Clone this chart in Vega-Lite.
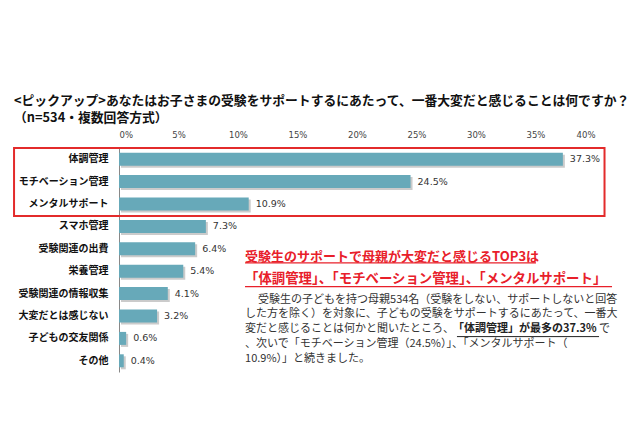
{
  "$schema": "https://vega.github.io/schema/vega-lite/v6.json",
  "autosize": "none",
  "width": 476,
  "height": 224,
  "padding": {"left": 119, "top": 148, "right": 45, "bottom": 54},
  "background": "white",
  "config": {"view": {"stroke": null}},
  "title": {
    "text": ["<ピックアップ>あなたはお子さまの受験をサポートするにあたって、一番大変だと感じることは何ですか？", "（n=534・複数回答方式）"],
    "anchor": "start",
    "frame": "group",
    "dx": -105,
    "offset": 5,
    "font": "Noto Sans CJK JP",
    "fontSize": 12.8,
    "fontWeight": "bold",
    "color": "#111111",
    "lineHeight": 17
  },
  "data": {"values": [
    {"item": "体調管理", "value": 37.3},
    {"item": "モチベーション管理", "value": 24.5},
    {"item": "メンタルサポート", "value": 10.9},
    {"item": "スマホ管理", "value": 7.3},
    {"item": "受験関連の出費", "value": 6.4},
    {"item": "栄養管理", "value": 5.4},
    {"item": "受験関連の情報収集", "value": 4.1},
    {"item": "大変だとは感じない", "value": 3.2},
    {"item": "子どもの交友関係", "value": 0.6},
    {"item": "その他", "value": 0.4}
  ]},
  "encoding": {
    "y": {
      "field": "item", "type": "nominal", "sort": null,
      "scale": {"paddingInner": 0, "paddingOuter": 0},
      "axis": {
        "title": null, "ticks": false, "domain": true, "domainColor": "#888888", "domainWidth": 1,
        "labelPadding": 11, "labelFont": "Noto Sans CJK JP", "labelFontSize": 10,
        "labelFontWeight": "bold", "labelColor": "#111111"
      }
    },
    "x": {
      "field": "value", "type": "quantitative",
      "scale": {"domain": [0, 40], "nice": false},
      "axis": {
        "orient": "top", "title": null, "ticks": false, "domain": false, "grid": false,
        "values": [0, 5, 10, 15, 20, 25, 30, 35, 40],
        "labelExpr": "datum.value + '%'",
        "labelFont": "DejaVu Sans", "labelFontSize": 8.5, "labelColor": "#444444",
        "labelPadding": 9
      }
    }
  },
  "layer": [
    {
      "mark": {"type": "bar", "fill": "#b5b5b5", "opacity": 0.7, "xOffset": 2, "yOffset": 2, "height": {"band": 0.58}}
    },
    {
      "mark": {"type": "bar", "fill": "#67a9b9", "height": {"band": 0.58}}
    },
    {
      "mark": {"type": "text", "align": "left", "baseline": "middle", "dx": 7, "font": "DejaVu Sans", "fontSize": 9.5, "fill": "#333333",
        "text": {"expr": "format(datum.value, '.1f') + '%'"}},
      "encoding": {}
    },
    {
      "transform": [{"filter": "datum.item === '体調管理'"}],
      "mark": {"type": "rect", "fill": null, "stroke": "#e32b2b", "strokeWidth": 2, "yOffset": -11.2, "y2Offset": 12},
      "encoding": {
        "x": {"datum": -8.82, "type": "quantitative"},
        "x2": {"datum": 40.8},
        "y": {"datum": "体調管理"},
        "y2": {"datum": "メンタルサポート"}
      }
    },
    {
      "transform": [{"filter": "datum.item === '体調管理'"}],
      "mark": {"type": "text", "align": "left", "baseline": "middle", "dy": 8, "font": "Noto Sans CJK JP", "fontSize": 13, "fontWeight": "bold", "fill": "#e8202a",
        "text": "受験生のサポートで母親が大変だと感じるTOP3は"},
      "encoding": {"x": {"datum": 10.59, "type": "quantitative"}, "y": {"datum": "受験関連の出費"}}
    },
    {
      "transform": [{"filter": "datum.item === '体調管理'"}],
      "mark": {"type": "text", "align": "left", "baseline": "middle", "dy": 8, "font": "Noto Sans CJK JP", "fontSize": 13.4, "fontWeight": "bold", "fill": "#e8202a",
        "text": "「体調管理」、「モチベーション管理」、「メンタルサポート」"},
      "encoding": {"x": {"datum": 10.59, "type": "quantitative"}, "y": {"datum": "栄養管理"}}
    },
    {
      "transform": [{"filter": "datum.item === '体調管理'"}],
      "mark": {"type": "rule", "stroke": "#e8202a", "strokeWidth": 1.2, "yOffset": 14},
      "encoding": {"x": {"datum": 10.59, "type": "quantitative"}, "x2": {"datum": 35.04}, "y": {"datum": "受験関連の出費"}}
    },
    {
      "transform": [{"filter": "datum.item === '体調管理'"}],
      "mark": {"type": "rule", "stroke": "#e8202a", "strokeWidth": 1.2, "yOffset": 15.5},
      "encoding": {"x": {"datum": 10.59, "type": "quantitative"}, "x2": {"datum": 41.43}, "y": {"datum": "栄養管理"}}
    },
    {
      "transform": [{"filter": "datum.item === '体調管理'"}],
      "mark": {"type": "text", "align": "left", "baseline": "top", "dx": 13, "dy": 0, "font": "Noto Sans CJK JP", "fontSize": 11, "fill": "#333333",
        "text": "受験生の子どもを持つ母親534名（受験をしない、サポートしないと回答"},
      "encoding": {"x": {"datum": 10.59, "type": "quantitative"}, "y": {"datum": "受験関連の情報収集"}}
    },
    {
      "transform": [{"filter": "datum.item === '体調管理'"}],
      "mark": {"type": "text", "align": "left", "baseline": "top", "dy": 14.8, "lineHeight": 14.8, "font": "Noto Sans CJK JP", "fontSize": 11, "fill": "#333333",
        "text": ["した方を除く）を対象に、子どもの受験をサポートするにあたって、一番大", "変だと感じることは何かと聞いたところ、", "、次いで「モチベーション管理（24.5%）」、「メンタルサポート（", "10.9%）」と続きました。"]},
      "encoding": {"x": {"datum": 10.59, "type": "quantitative"}, "y": {"datum": "受験関連の情報収集"}}
    },
    {
      "transform": [{"filter": "datum.item === '体調管理'"}],
      "mark": {"type": "text", "align": "left", "baseline": "top", "dy": 29.6, "font": "Noto Sans CJK JP", "fontSize": 11, "fontWeight": "bold", "fill": "#222222",
        "text": "「体調管理」が最多の37.3%"},
      "encoding": {"x": {"datum": 28.07, "type": "quantitative"}, "y": {"datum": "受験関連の情報収集"}}
    },
    {
      "transform": [{"filter": "datum.item === '体調管理'"}],
      "mark": {"type": "text", "align": "left", "baseline": "top", "dy": 29.6, "font": "Noto Sans CJK JP", "fontSize": 11, "fill": "#333333",
        "text": "で"},
      "encoding": {"x": {"datum": 40.34, "type": "quantitative"}, "y": {"datum": "受験関連の情報収集"}}
    },
    {
      "transform": [{"filter": "datum.item === '体調管理'"}],
      "mark": {"type": "rule", "stroke": "#222222", "strokeWidth": 1, "yOffset": 43},
      "encoding": {"x": {"datum": 28.4, "type": "quantitative"}, "x2": {"datum": 40.34}, "y": {"datum": "受験関連の情報収集"}}
    }
  ]
}
